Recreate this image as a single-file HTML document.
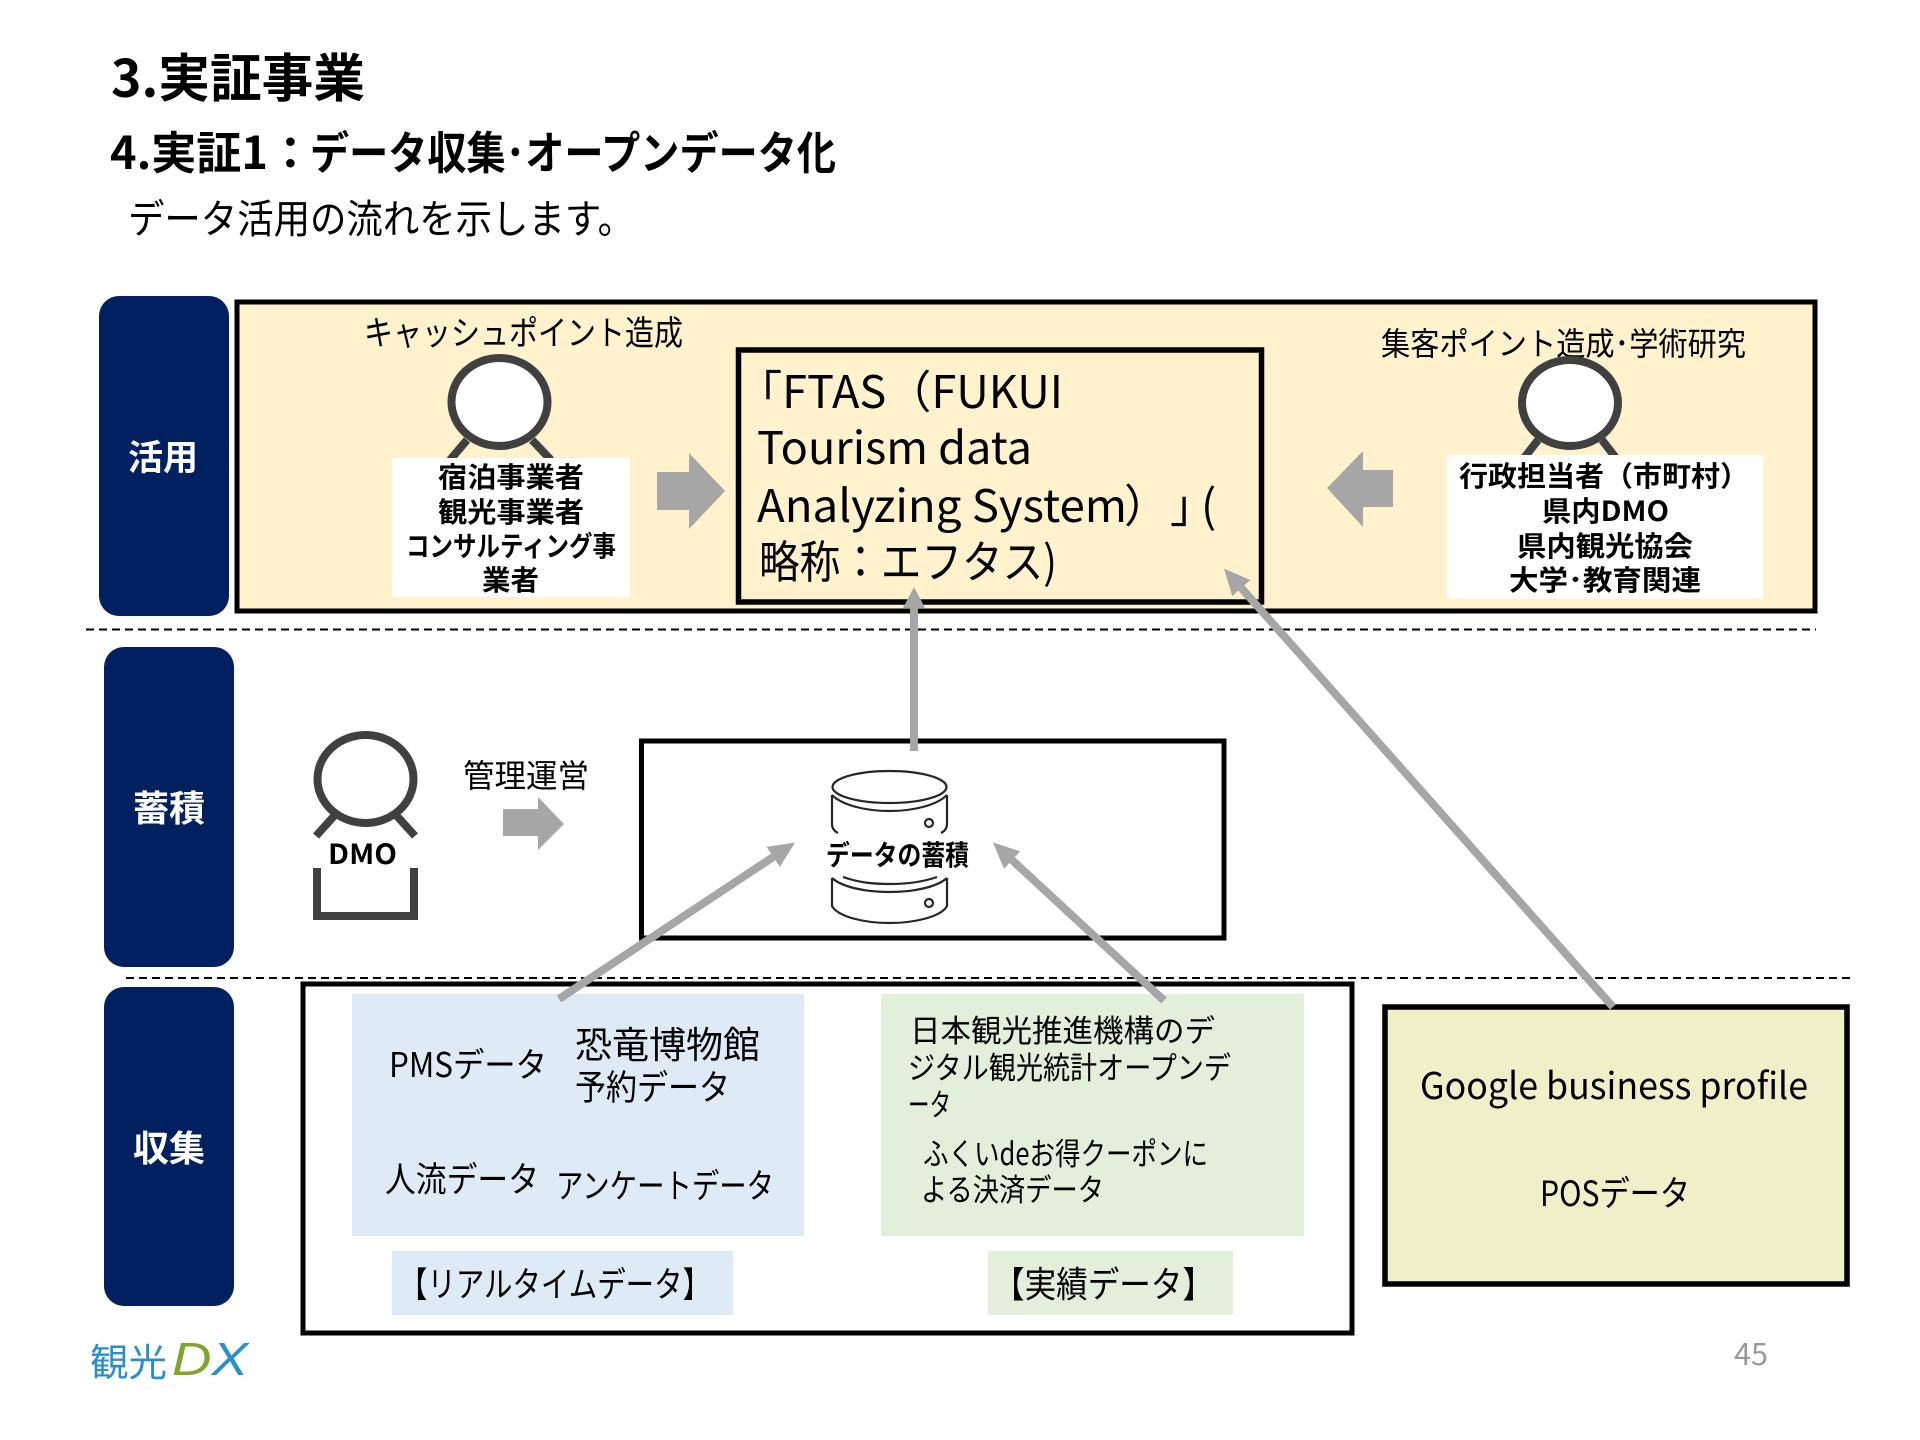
<!DOCTYPE html>
<html lang="ja">
<head>
<meta charset="utf-8">
<title>3.実証事業</title>
<style>
html,body{margin:0;padding:0;background:#fff;width:1920px;height:1440px;overflow:hidden}
svg{display:block}
text{font-family:"Noto Sans CJK JP","Liberation Sans",sans-serif;fill:#000}
.b{font-weight:700}
.w{fill:#fff;font-weight:700}
</style>
</head>
<body>
<svg xmlns="http://www.w3.org/2000/svg" width="1920" height="1440" viewBox="0 0 1920 1440">
<rect width="1920" height="1440" fill="#fff"/>

<!-- titles -->
<text x="111" y="97" font-size="52" class="b" textLength="254" lengthAdjust="spacingAndGlyphs">3.実証事業</text>
<text x="110" y="169" font-size="45" class="b" textLength="203" lengthAdjust="spacingAndGlyphs">4.実証1：</text>
<text x="310" y="169" font-size="45" class="b" textLength="526" lengthAdjust="spacingAndGlyphs">データ収集･オープンデータ化</text>
<text x="128" y="233" font-size="40" textLength="506" lengthAdjust="spacingAndGlyphs">データ活用の流れを示します。</text>

<!-- pills -->
<rect x="99" y="296" width="130" height="320" rx="20" fill="#002060"/>
<rect x="104" y="647" width="130" height="320" rx="20" fill="#002060"/>
<rect x="104" y="987" width="130" height="319" rx="20" fill="#002060"/>
<text x="128" y="470" font-size="35" class="w" textLength="70" lengthAdjust="spacingAndGlyphs">活用</text>
<text x="133" y="821" font-size="36" class="w" textLength="72" lengthAdjust="spacingAndGlyphs">蓄積</text>
<text x="133" y="1161" font-size="36" class="w" textLength="72" lengthAdjust="spacingAndGlyphs">収集</text>

<!-- top yellow box -->
<rect x="237" y="302" width="1578" height="309" fill="#fff2cc" stroke="#000" stroke-width="5"/>
<rect x="738.5" y="350" width="523" height="252" fill="#fff2cc" stroke="#000" stroke-width="5.5"/>

<text x="364" y="345" font-size="34" textLength="319" lengthAdjust="spacingAndGlyphs">キャッシュポイント造成</text>
<text x="1381" y="355" font-size="32" textLength="365" lengthAdjust="spacingAndGlyphs">集客ポイント造成･学術研究</text>

<!-- persons in top box -->
<g fill="none" stroke="#404040" stroke-width="8">
  <ellipse cx="499.5" cy="402" rx="48" ry="44" fill="#fff"/>
  <path d="M467 440 L450 460 M532 440 L551 460"/>
  <ellipse cx="1570" cy="403" rx="48" ry="43" fill="#fff"/>
  <path d="M1538 440 L1524 458 M1602 440 L1616 458"/>
</g>
<rect x="392" y="458" width="238" height="139" fill="#fff"/>
<rect x="1447" y="455" width="316" height="144" fill="#fff"/>

<text x="438" y="487" font-size="28" class="b" textLength="146" lengthAdjust="spacingAndGlyphs">宿泊事業者</text>
<text x="438" y="522" font-size="28" class="b" textLength="146" lengthAdjust="spacingAndGlyphs">観光事業者</text>
<text x="406" y="556" font-size="28" class="b" textLength="210" lengthAdjust="spacingAndGlyphs">コンサルティング事</text>
<text x="482" y="590" font-size="28" class="b" textLength="57" lengthAdjust="spacingAndGlyphs">業者</text>

<text x="1459" y="486" font-size="28" class="b" textLength="290" lengthAdjust="spacingAndGlyphs">行政担当者（市町村）</text>
<text x="1542" y="521" font-size="28" class="b" textLength="127" lengthAdjust="spacingAndGlyphs">県内DMO</text>
<text x="1517" y="556" font-size="28" class="b" textLength="176" lengthAdjust="spacingAndGlyphs">県内観光協会</text>
<text x="1509" y="590" font-size="28" class="b" textLength="192" lengthAdjust="spacingAndGlyphs">大学･教育関連</text>

<!-- block arrows -->
<polygon points="657,472 689,472 689,453 725,491 689,529 689,510 657,510" fill="#a6a6a6"/>
<polygon points="1393,470 1363,470 1363,451 1327,488 1363,527 1363,507 1393,507" fill="#a6a6a6"/>
<polygon points="503,809 538,809 538,797 564,824 538,850 538,836 503,836" fill="#a6a6a6"/>

<!-- FTAS text -->
<text x="737" y="408" font-size="45" textLength="326" lengthAdjust="spacingAndGlyphs">「FTAS（FUKUI</text>
<text x="757" y="464" font-size="45" textLength="275" lengthAdjust="spacingAndGlyphs">Tourism data</text>
<text x="757" y="522" font-size="45" textLength="370" lengthAdjust="spacingAndGlyphs">Analyzing System</text>
<text x="1124" y="522" font-size="45">）</text>
<text x="1170" y="522" font-size="45">」</text>
<text x="1201" y="522" font-size="45">(</text>
<text x="759" y="578" font-size="45" textLength="298" lengthAdjust="spacingAndGlyphs">略称：エフタス)</text>

<!-- dashed separators -->
<line x1="86" y1="629.5" x2="1816" y2="629.5" stroke="#000" stroke-width="2" stroke-dasharray="8 5"/>
<line x1="126" y1="978" x2="1855" y2="978" stroke="#000" stroke-width="2" stroke-dasharray="8 5"/>

<!-- DMO person -->
<g fill="none" stroke="#404040" stroke-width="8">
  <ellipse cx="365.5" cy="779" rx="48" ry="44" fill="#fff"/>
  <path d="M335 815 L316 836 M396 815 L415 836"/>
  <path d="M317 868 L317 916 L414 916 L414 868"/>
</g>
<text x="328" y="864" font-size="28" class="b" textLength="69" lengthAdjust="spacingAndGlyphs">DMO</text>

<text x="463" y="787" font-size="32" textLength="126" lengthAdjust="spacingAndGlyphs">管理運営</text>

<!-- storage box -->
<rect x="641.5" y="741" width="582.5" height="197" fill="#fff" stroke="#000" stroke-width="5"/>
<g fill="none" stroke="#262626" stroke-width="2.2">
  <ellipse cx="889.5" cy="787" rx="57" ry="16"/>
  <path d="M832 795 C842 805 865 811 889.5 811 C914 811 937 805 947 795"/>
  <path d="M832 795 L832 824 Q832 830 838 833"/>
  <path d="M947 795 L947 824 Q947 830 941 833"/>
  <circle cx="929" cy="823" r="4"/>
  <path d="M843 877 C860 883 875 884 889.5 884 C904 884 920 883 937 877"/>
  <path d="M832 878 C842 887 865 892 889.5 892 C914 892 937 887 947 878"/>
  <path d="M832 878 L832 906 C838 917 865 923 889.5 923 C914 923 941 917 947 906 L947 878"/>
  <circle cx="929" cy="903" r="4"/>
</g>
<text x="826" y="865" font-size="28" class="b" textLength="143" lengthAdjust="spacingAndGlyphs">データの蓄積</text>

<!-- collection box -->
<rect x="303" y="984" width="1049" height="349" fill="#fff" stroke="#000" stroke-width="5"/>
<rect x="352" y="994" width="452" height="242" fill="#deebf7"/>
<rect x="392" y="1251" width="341" height="64" fill="#deebf7"/>
<rect x="881" y="994" width="423" height="242" fill="#e2efda"/>
<rect x="988" y="1251" width="245" height="64" fill="#e2efda"/>

<text x="389" y="1077" font-size="34" textLength="158" lengthAdjust="spacingAndGlyphs">PMSデータ</text>
<text x="575" y="1058" font-size="37" textLength="185" lengthAdjust="spacingAndGlyphs">恐竜博物館</text>
<text x="575" y="1100" font-size="35" textLength="155" lengthAdjust="spacingAndGlyphs">予約データ</text>
<text x="385" y="1192" font-size="35" textLength="154" lengthAdjust="spacingAndGlyphs">人流データ</text>
<text x="556" y="1198" font-size="34" textLength="218" lengthAdjust="spacingAndGlyphs">アンケートデータ</text>
<text x="399" y="1297" font-size="35" textLength="312" lengthAdjust="spacingAndGlyphs">【リアルタイムデータ】</text>
<text x="993" y="1297" font-size="36" textLength="221" lengthAdjust="spacingAndGlyphs">【実績データ】</text>

<text x="910" y="1042" font-size="31" textLength="305" lengthAdjust="spacingAndGlyphs">日本観光推進機構のデ</text>
<text x="908" y="1079" font-size="31" textLength="323" lengthAdjust="spacingAndGlyphs">ジタル観光統計オープンデ</text>
<text x="908" y="1116" font-size="31" textLength="43" lengthAdjust="spacingAndGlyphs">ータ</text>
<text x="923" y="1165" font-size="31" textLength="285" lengthAdjust="spacingAndGlyphs">ふくいdeお得クーポンに</text>
<text x="921" y="1201" font-size="31" textLength="183" lengthAdjust="spacingAndGlyphs">よる決済データ</text>

<!-- GBP box -->
<rect x="1385" y="1007" width="462" height="277" fill="#f0f0c8" stroke="#000" stroke-width="5.5"/>
<text x="1420" y="1099" font-size="37" textLength="388" lengthAdjust="spacingAndGlyphs">Google business profile</text>
<text x="1540" y="1206" font-size="35" textLength="150" lengthAdjust="spacingAndGlyphs">POSデータ</text>

<!-- connectors -->
<g stroke="#a6a6a6" stroke-width="8" fill="none">
  <line x1="914" y1="751" x2="914" y2="605"/>
  <line x1="559" y1="999" x2="773.3" y2="856.9"/>
  <line x1="1164" y1="1000.5" x2="1012.1" y2="860.1"/>
  <line x1="1613" y1="1007" x2="1241.3" y2="588"/>
</g>
<g fill="#a6a6a6">
  <polygon points="914,587 925,608 903,608"/>
  <polygon points="795,842.5 779.9,866.9 766.7,846.9"/>
  <polygon points="993,842.5 1020.2,851.3 1004,868.9"/>
  <polygon points="1224,568.6 1250.3,580 1232.3,596"/>
</g>

<!-- logo & page number -->
<text x="90" y="1376" font-size="38" style="fill:#2b8fc7" textLength="77" lengthAdjust="spacingAndGlyphs">観光</text>
<text x="172" y="1375" font-size="46" font-style="italic" textLength="76" lengthAdjust="spacingAndGlyphs" style="font-family:'Liberation Sans',sans-serif;fill:#7ea52c">D<tspan style="fill:#2b8fc7">X</tspan></text>
<text x="1734" y="1365" font-size="30" style="fill:#999" textLength="34" lengthAdjust="spacingAndGlyphs">45</text>
</svg>
</body>
</html>
